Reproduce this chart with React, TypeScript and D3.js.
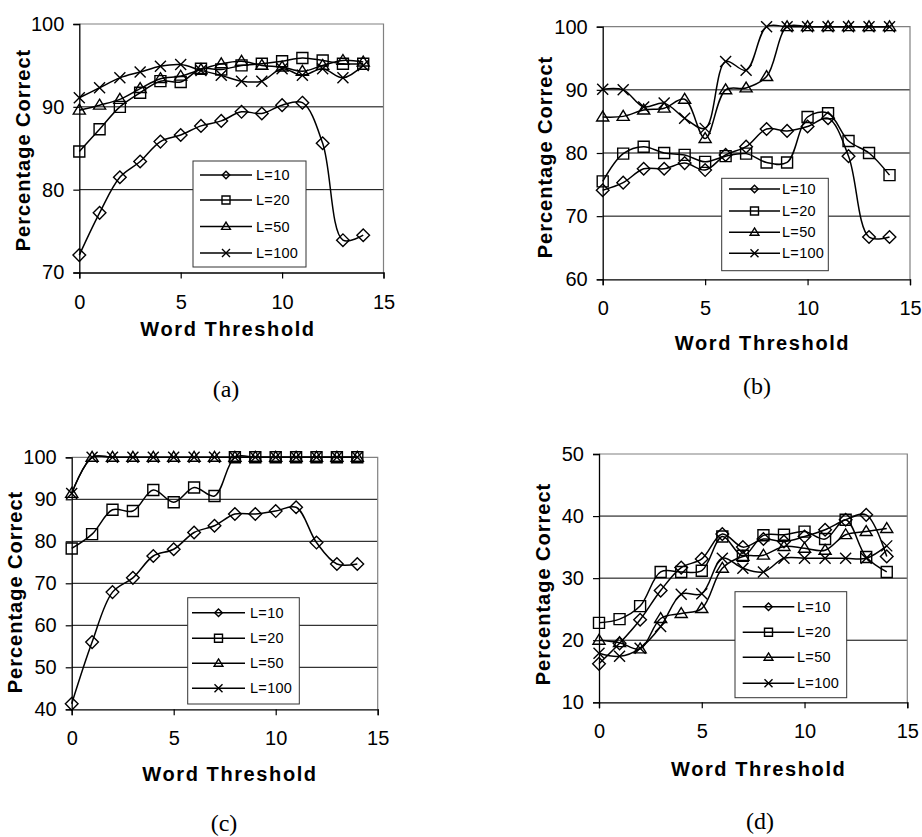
import React, { useEffect, useRef } from "react";
import * as d3 from "d3";

// ---------- data ----------
const thresholds = [0, 1, 2, 3, 4, 5, 6, 7, 8, 9, 10, 11, 12, 13, 14];
const seriesNames = ["L=10", "L=20", "L=50", "L=100"];
const markerKinds = ["diamond", "square", "triangle", "cross"];
const xTickValues = [0, 5, 10, 15];

const a_L10 = [72.1, 77.2, 81.5, 83.4, 85.8, 86.6, 87.7, 88.3, 89.4, 89.2, 90.2, 90.5, 85.6, 73.9, 74.5];
const a_L20 = [84.6, 87.3, 90.0, 91.7, 93.1, 93.0, 94.6, 94.5, 95.0, 95.2, 95.5, 95.9, 95.6, 95.2, 95.2];
const a_L50 = [89.6, 90.2, 90.9, 92.2, 93.4, 93.7, 94.5, 95.2, 95.5, 95.0, 94.8, 94.3, 95.0, 95.6, 95.4];
const a_L100 = [91.1, 92.3, 93.5, 94.2, 94.9, 95.1, 94.4, 93.8, 93.1, 93.1, 94.6, 93.8, 94.6, 93.5, 95.0];

const b_L10 = [74.1, 75.3, 77.5, 77.5, 78.4, 77.3, 79.7, 81.0, 83.8, 83.5, 84.2, 85.5, 79.5, 66.7, 66.7];
const b_L20 = [75.5, 79.9, 81.0, 80.0, 79.7, 78.6, 79.5, 79.9, 78.5, 78.5, 85.7, 86.3, 81.9, 80.0, 76.5];
const b_L50 = [85.7, 85.8, 86.8, 87.1, 88.5, 82.3, 90.0, 90.3, 92.1, 100, 100, 100, 100, 100, 100];
const b_L100 = [90.1, 90.0, 87.3, 87.9, 85.5, 83.9, 94.5, 93.1, 100, 100, 100, 100, 100, 100, 100];

const c_L10 = [41.3, 56.0, 67.9, 71.3, 76.5, 78.1, 82.1, 83.7, 86.5, 86.5, 87.2, 88.1, 79.7, 74.6, 74.6];
const c_L20 = [78.3, 81.7, 87.5, 87.2, 92.2, 89.3, 92.8, 90.8, 100, 100, 100, 100, 100, 100, 100];
const c_L50 = [91.4, 100, 100, 100, 100, 100, 100, 100, 100, 100, 100, 100, 100, 100, 100];
const c_L100 = [91.4, 100, 100, 100, 100, 100, 100, 100, 100, 100, 100, 100, 100, 100, 100];

const d_L10 = [16.2, 19.5, 23.3, 28.0, 31.7, 33.1, 37.1, 35.0, 36.3, 35.9, 36.7, 37.8, 39.4, 40.2, 33.5];
const d_L20 = [22.8, 23.4, 25.5, 31.0, 31.0, 31.2, 36.7, 33.6, 36.9, 37.0, 37.5, 36.3, 39.4, 33.4, 31.0];
const d_L50 = [20.0, 19.6, 18.6, 23.5, 24.3, 25.1, 31.6, 33.5, 33.7, 35.1, 34.8, 34.5, 37.0, 37.5, 38.0];
const d_L100 = [17.9, 17.4, 18.7, 22.2, 27.4, 27.5, 33.2, 31.6, 31.0, 33.2, 33.2, 33.2, 33.2, 33.2, 35.2];

const yTicksA = [70, 80, 90, 100];
const yTicksB = [60, 70, 80, 90, 100];
const yTicksC = [40, 50, 60, 70, 80, 90, 100];
const yTicksD = [10, 20, 30, 40, 50];

const xTitle = "Word Threshold";
const yTitle = "Percentage Correct";
const captions = ["(a)", "(b)", "(c)", "(d)"];

// ---------- layout ----------
const W = 922;
const H = 837;
const SANS = "'Liberation Sans', Arial, Helvetica, sans-serif";
const SERIF = "'Liberation Serif', 'Times New Roman', serif";

type Panel = {
  series: number[][];
  yTicks: number[];
  x0: number; x1: number; yTop: number; yBot: number;
  xTitleY: number; xTitleX: number;
  yTitleX: number; yTitleY: number;
  capX: number; capY: number; caption: string;
  leg: { x0: number; x1: number; y0: number; y1: number; rows: number[]; lx0: number; lx1: number; tx: number };
};

const panels: Panel[] = [
  {
    series: [a_L10, a_L20, a_L50, a_L100], yTicks: yTicksA,
    x0: 79.3, x1: 383.5, yTop: 24, yBot: 272.5,
    xTitleX: 228, xTitleY: 335.5, yTitleX: 29.5, yTitleY: 150,
    capX: 226, capY: 397, caption: captions[0],
    leg: { x0: 193, x1: 306, y0: 161, y1: 267, rows: [175, 200, 226.5, 253], lx0: 200, lx1: 252, tx: 256 },
  },
  {
    series: [b_L10, b_L20, b_L50, b_L100], yTicks: yTicksB,
    x0: 602.7, x1: 910, yTop: 26.7, yBot: 279.3,
    xTitleX: 762.5, xTitleY: 350, yTitleX: 552, yTitleY: 157,
    capX: 757, capY: 394, caption: captions[1],
    leg: { x0: 721.7, x1: 828.3, y0: 178.3, y1: 270.7, rows: [189, 211, 232.3, 253.3], lx0: 729, lx1: 780, tx: 782 },
  },
  {
    series: [c_L10, c_L20, c_L50, c_L100], yTicks: yTicksC,
    x0: 71.7, x1: 377.7, yTop: 457.3, yBot: 709.3,
    xTitleX: 230, xTitleY: 781, yTitleX: 21.5, yTitleY: 592,
    capX: 224, capY: 831, caption: captions[2],
    leg: { x0: 187.7, x1: 299.3, y0: 597.7, y1: 704, rows: [612.7, 638.3, 663.3, 688.3], lx0: 192, lx1: 245, tx: 250 },
  },
  {
    series: [d_L10, d_L20, d_L50, d_L100], yTicks: yTicksD,
    x0: 599, x1: 907.3, yTop: 454, yBot: 702.3,
    xTitleX: 758.7, xTitleY: 776, yTitleX: 549.5, yTitleY: 584,
    capX: 760, capY: 828.5, caption: captions[3],
    leg: { x0: 735, x1: 846.7, y0: 591.7, y1: 697.7, rows: [606.7, 632.3, 657.3, 683.3], lx0: 742.7, lx1: 794.3, tx: 797 },
  },
];

function markerPath(kind: string, cx: number, cy: number, s: number): string {
  if (kind === "diamond") {
    const r = s * 1.15;
    return `M${cx},${cy - r}L${cx + r},${cy}L${cx},${cy + r}L${cx - r},${cy}Z`;
  }
  if (kind === "square") {
    return `M${cx - s},${cy - s}L${cx + s},${cy - s}L${cx + s},${cy + s}L${cx - s},${cy + s}Z`;
  }
  if (kind === "triangle") {
    const h = s * 1.8;
    return `M${cx},${cy - h * 0.6}L${cx + s * 1.1},${cy + h * 0.4}L${cx - s * 1.1},${cy + h * 0.4}Z`;
  }
  return `M${cx - s},${cy - s}L${cx + s},${cy + s}M${cx + s},${cy - s}L${cx - s},${cy + s}`;
}

export default function App() {
  const ref = useRef<SVGSVGElement | null>(null);

  useEffect(() => {
    const svg = d3.select(ref.current);
    svg.selectAll("*").remove();

    panels.forEach((p) => {
      const yMin = d3.min(p.yTicks) as number;
      const yMax = d3.max(p.yTicks) as number;
      const x = d3.scaleLinear().domain([0, 15]).range([p.x0, p.x1]);
      const y = d3.scaleLinear().domain([yMin, yMax]).range([p.yBot, p.yTop]);
      const g = svg.append("g");

      // gridlines
      g.selectAll("line.grid")
        .data(p.yTicks.filter((t) => t !== yMin && t !== yMax))
        .join("line")
        .attr("x1", p.x0).attr("x2", p.x1)
        .attr("y1", (d) => y(d)).attr("y2", (d) => y(d))
        .attr("stroke", "#000").attr("stroke-width", 1);

      // plot border (top, right)
      g.append("path")
        .attr("d", `M${p.x0},${y(yMax)}L${p.x1},${y(yMax)}L${p.x1},${y(yMin)}`)
        .attr("fill", "none").attr("stroke", "#808080").attr("stroke-width", 1.2);

      // y axis
      const yAxis = d3.axisLeft(y).tickValues(p.yTicks).tickSize(6).tickPadding(9).tickFormat(d3.format("d"));
      const ya = g.append("g").attr("transform", `translate(${p.x0},0)`).call(yAxis);
      ya.select(".domain").attr("stroke", "#000").attr("stroke-width", 1.3);
      ya.selectAll(".tick line").attr("stroke", "#000").attr("stroke-width", 1.2);
      ya.selectAll(".tick text").attr("font-family", SANS).attr("font-size", 20).attr("fill", "#000");

      // x axis
      const xAxis = d3.axisBottom(x).tickValues(xTickValues).tickSize(6).tickPadding(16).tickFormat(d3.format("d"));
      const xa = g.append("g").attr("transform", `translate(0,${p.yBot})`).call(xAxis);
      xa.select(".domain").attr("stroke", "#000").attr("stroke-width", 1.3);
      xa.selectAll(".tick line").attr("stroke", "#000").attr("stroke-width", 1.2);
      xa.selectAll(".tick text").attr("font-family", SANS).attr("font-size", 20).attr("fill", "#000");

      // titles
      g.append("text")
        .attr("x", p.xTitleX).attr("y", p.xTitleY)
        .attr("text-anchor", "middle")
        .attr("font-family", SANS).attr("font-weight", "bold").attr("font-size", 20)
        .attr("letter-spacing", 1.6)
        .text(xTitle);
      g.append("text")
        .attr("transform", `translate(${p.yTitleX},${p.yTitleY}) rotate(-90)`)
        .attr("text-anchor", "middle")
        .attr("font-family", SANS).attr("font-weight", "bold").attr("font-size", 20)
        .attr("letter-spacing", 1.0)
        .text(yTitle);
      g.append("text")
        .attr("x", p.capX).attr("y", p.capY)
        .attr("text-anchor", "middle")
        .attr("font-family", SERIF).attr("font-size", 24)
        .text(p.caption);

      // series
      const line = d3.line<number>()
        .x((_, i) => x(thresholds[i]))
        .y((d) => y(d))
        .curve(d3.curveCatmullRom.alpha(0.5));

      p.series.forEach((vals, si) => {
        const sg = g.append("g");
        sg.append("path")
          .attr("d", line(vals) as string)
          .attr("fill", "none").attr("stroke", "#000").attr("stroke-width", 1.5);
        sg.selectAll("path.m")
          .data(vals)
          .join("path")
          .attr("class", "m")
          .attr("d", (d, i) => markerPath(markerKinds[si], x(thresholds[i]), y(d), 5.5))
          .attr("fill", "none").attr("stroke", "#000").attr("stroke-width", 1.4);
      });

      // legend
      const L = p.leg;
      const lg = g.append("g");
      lg.append("rect")
        .attr("x", L.x0).attr("y", L.y0)
        .attr("width", L.x1 - L.x0).attr("height", L.y1 - L.y0)
        .attr("fill", "#fff").attr("stroke", "#333").attr("stroke-width", 1);
      seriesNames.forEach((name, si) => {
        const ry = L.rows[si];
        const mx = (L.lx0 + L.lx1) / 2;
        lg.append("line")
          .attr("x1", L.lx0).attr("x2", L.lx1).attr("y1", ry).attr("y2", ry)
          .attr("stroke", "#000").attr("stroke-width", 1.5);
        lg.append("path")
          .attr("d", markerPath(markerKinds[si], mx, ry, si === 0 ? 3.3 : 4))
          .attr("fill", "none").attr("stroke", "#000").attr("stroke-width", 1.4);
        lg.append("text")
          .attr("x", L.tx).attr("y", ry + 5)
          .attr("font-family", SANS).attr("font-size", 14.5)
          .attr("letter-spacing", 0.3)
          .text(name);
      });
    });
  }, []);

  return (
    <svg
      ref={ref}
      width={W}
      height={H}
      viewBox={`0 0 ${W} ${H}`}
      style={{ position: "absolute", left: 0, top: 0, background: "#fff" }}
    />
  );
}
